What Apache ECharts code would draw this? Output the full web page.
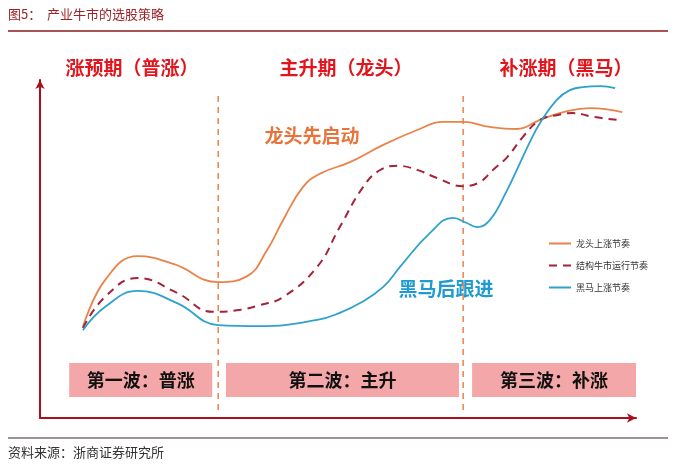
<!DOCTYPE html>
<html><head><meta charset="utf-8">
<script src="https://cdn.jsdelivr.net/npm/echarts@6/dist/echarts.min.js"></script>
<style>html,body{margin:0;padding:0;background:#fff;}#c{width:676px;height:476px;}</style>
</head><body><div id="c"></div>
<script>
const FONT = '"Noto Sans CJK SC", "Noto Sans", sans-serif';
const seriesNames = ['龙头上涨节奏', '结构牛市运行节奏', '黑马上涨节奏'];
const phaseTitles = ['涨预期（普涨）', '主升期（龙头）', '补涨期（黑马）'];
const waveLabels = ['第一波：普涨', '第二波：主升', '第三波：补涨'];
const annotations = ['龙头先启动', '黑马后跟进'];
const leaderX = [7.2,11.0,16.4,22.5,29.9,34.7,38.1,40.8,44.1,47.0,52.0,57.6,63.3,67.6,71.0,75.5,80.0,83.9,87.8,92.3,97.7];
const leaderY = [26.9,41.0,47.9,45.5,40.2,41.9,49.7,58.6,68.3,72.3,75.7,80.8,85.2,87.6,87.6,86.1,85.5,88.2,90.5,91.7,90.5];
const marketX = [7.2,11.0,16.4,23.0,29.0,33.6,36.9,40.8,46.5,50.3,54.2,57.0,60.0,63.3,66.6,71.0,73.8,76.0,78.4,81.0,83.9,86.7,89.4,92.8,96.8];
const marketY = [26.6,36.0,41.4,37.0,31.4,32.0,33.4,35.8,44.7,56.5,68.3,73.3,74.6,73.4,71.0,68.6,69.8,73.4,77.2,83.1,88.2,89.6,90.2,89.1,88.2];
const horseX = [7.2,11.0,16.4,23.0,29.9,36.9,46.5,50.3,53.7,57.6,60.4,65.4,69.3,71.6,73.3,75.5,78.4,80.0,82.2,83.9,86.7,88.9,91.1,94.0,96.5];
const horseY = [26.0,33.0,37.6,34.0,27.5,27.2,29.0,31.1,34.0,38.8,44.7,54.7,59.2,57.7,56.5,58.6,67.5,73.4,81.7,87.3,94.1,97.0,97.9,98.2,97.6];
const dividerX = [29.9, 71.0];
const dividerY = [2.4, 95.6];
const boxX = [[4.9, 28.9], [31.2, 70.3], [72.5, 100]];
const boxY = [6.2, 16.3];

const zip = (xs, ys) => xs.map((x, i) => [x, ys[i]]);
const chart = echarts.init(document.getElementById('c'));
const gridL = 40, gridR = 40, gridT = 80, gridB = 58;

const series = [
  { name: seriesNames[0], type: 'line', smooth: 0.45, symbol: 'none', data: zip(leaderX, leaderY),
    lineStyle: { color: '#e9834a', width: 1.8 }, itemStyle: { color: '#e9834a' }, z: 5 },
  { name: seriesNames[1], type: 'line', smooth: 0.45, symbol: 'none', data: zip(marketX, marketY),
    lineStyle: { color: '#a4233a', width: 2, type: [8, 6] }, itemStyle: { color: '#a4233a' }, z: 5 },
  { name: seriesNames[2], type: 'line', smooth: 0.45, symbol: 'none', data: zip(horseX, horseY),
    lineStyle: { color: '#2ea2cc', width: 1.8 }, itemStyle: { color: '#2ea2cc' }, z: 5 },
  { name: 'boxes', type: 'line', data: [], silent: true,
    markArea: { silent: true, itemStyle: { color: '#f4a7a9' },
      label: { show: true, position: 'inside', color: '#111', fontSize: 18, fontWeight: 'bold', fontFamily: FONT },
      data: boxX.map((b, i) => [{ name: waveLabels[i], coord: [b[0], boxY[1]] }, { coord: [b[1], boxY[0]] }]) } }
];
dividerX.forEach((x, i) => series.push({
  name: 'div' + i, type: 'line', symbol: 'none', silent: true, data: dividerY.map(y => [x, y]),
  lineStyle: { color: '#e9834a', width: 1.5, type: [6, 5] }, z: 3
}));

const graphic = [
  { type: 'text', left: 8, top: 8, style: { text: '图5：  产业牛市的选股策略', fill: '#9b2226', font: '13px ' + FONT } },
  { type: 'line', shape: { x1: 8, y1: 31, x2: 668, y2: 31 }, style: { stroke: '#8b1a1a', lineWidth: 1.5 } },
  { type: 'line', shape: { x1: 8, y1: 438, x2: 668, y2: 438 }, style: { stroke: '#3a2a2a', lineWidth: 1.2 } },
  { type: 'text', left: 8, top: 446, style: { text: '资料来源：浙商证券研究所', fill: '#333', font: '13px ' + FONT } }
];
const phaseCenters = [132, 346, 566];
phaseTitles.forEach((t, i) => graphic.push({ type: 'text', x: phaseCenters[i], y: 68,
  style: { text: t, fill: '#e2141c', font: 'bold 19px ' + FONT, textAlign: 'center', textVerticalAlign: 'middle' } }));
graphic.push({ type: 'text', x: 312, y: 136, style: { text: annotations[0], fill: '#e8743b', font: 'bold 19px ' + FONT, textAlign: 'center', textVerticalAlign: 'middle' } });
graphic.push({ type: 'text', x: 446, y: 289, style: { text: annotations[1], fill: '#1f9bcf', font: 'bold 19px ' + FONT, textAlign: 'center', textVerticalAlign: 'middle' } });

chart.setOption({
  animation: false,
  backgroundColor: '#fff',
  grid: { left: gridL, right: gridR, top: gridT, bottom: gridB },
  xAxis: { type: 'value', min: 0, max: 100, splitLine: { show: false }, axisTick: { show: false }, axisLabel: { show: false },
    axisLine: { show: true, onZero: false, symbol: ['none', 'arrow'], symbolSize: [7, 9], lineStyle: { color: '#a8101c', width: 2 } } },
  yAxis: { type: 'value', min: 0, max: 100, splitLine: { show: false }, axisTick: { show: false }, axisLabel: { show: false },
    axisLine: { show: true, onZero: false, symbol: ['none', 'arrow'], symbolSize: [7, 9], lineStyle: { color: '#a8101c', width: 2 } } },
  legend: { data: seriesNames, orient: 'vertical', left: 543, top: 234, itemWidth: 22, itemHeight: 8, itemGap: 13,
    itemStyle: { opacity: 0 },
    textStyle: { fontSize: 9, color: '#333', fontFamily: FONT } },
  graphic: graphic,
  series: series
});
</script></body></html>
